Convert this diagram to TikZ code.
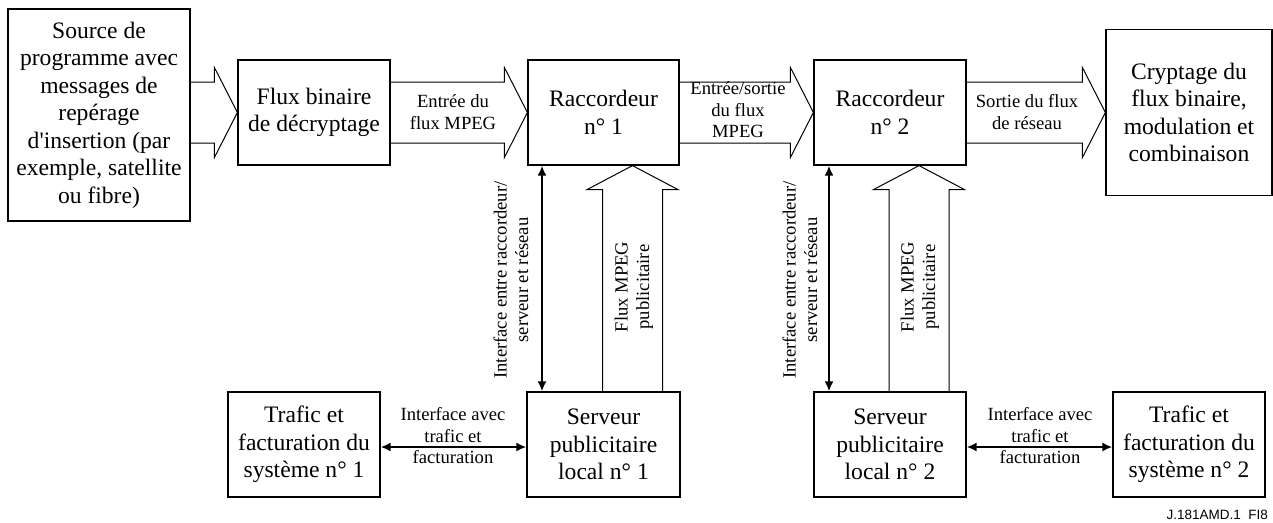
\documentclass[tikz,border=0pt]{standalone}
\usepackage{fontspec}
\setmainfont{Liberation Serif}
\newfontfamily\figsans{Liberation Sans}
\usetikzlibrary{arrows.meta,calc}
\newcommand\fatH[2]{%
  \draw[fat] ($(#1)+(0,-30.5)$) -- ($(#2)+(-23,-30.5)$) -- ($(#2)+(-23,-45)$) -- (#2)
    -- ($(#2)+(-23,45)$) -- ($(#2)+(-23,30.5)$) -- ($(#1)+(0,30.5)$);}
\newcommand\fatV[2]{%
  \draw[fat] ($(#1)+(-30,0)$) -- ($(#2)+(-30,24)$) -- ($(#2)+(-45.5,24)$) -- (#2)
    -- ($(#2)+(45.5,24)$) -- ($(#2)+(30,24)$) -- ($(#1)+(30,0)$);}
\begin{document}
\begin{tikzpicture}[x=1pt,y=-1pt,
  box/.style={draw, line width=1.2pt, rectangle, align=center, inner sep=0pt,
    font=\fontsize{23.6}{27.5}\selectfont},
  small/.style={align=center, inner sep=0pt, font=\fontsize{18.6}{21.5}\selectfont},
  fat/.style={draw, line width=1pt, line join=miter},
  iface/.style={line width=2pt, {Latex[length=10pt,width=9pt]}-{Latex[length=10pt,width=9pt]}}]
\useasboundingbox (0,0) rectangle (1273,522);

% main boxes
\node[box, minimum width=182pt, minimum height=212pt] (src) at (99,115)
  {Source de\\programme avec\\messages de\\repérage\\d\textquotesingle insertion (par\\exemple, satellite\\ou fibre)};
\node[box, minimum width=152pt, minimum height=105pt] (flux) at (314,112.5)
  {Flux binaire\\de décryptage};
\node[box, minimum width=151pt, minimum height=105pt] (r1) at (603.5,112.5)
  {Raccordeur\\n° 1};
\node[box, minimum width=152pt, minimum height=105pt] (r2) at (890,112.5)
  {Raccordeur\\n° 2};
\node[box, minimum width=166pt, minimum height=166pt] (cry) at (1189,112.5)
  {Cryptage du\\flux binaire,\\modulation et\\combinaison};
\node[box, minimum width=152pt, minimum height=105pt] (t1) at (304,444.5)
  {Trafic et\\facturation du\\système n° 1};
\node[box, minimum width=153pt, minimum height=105pt] (s1) at (603.5,444.5)
  {Serveur\\publicitaire\\local n° 1};
\node[box, minimum width=152pt, minimum height=105pt] (s2) at (890,444.5)
  {Serveur\\publicitaire\\local n° 2};
\node[box, minimum width=152pt, minimum height=105pt] (t2) at (1189,444.5)
  {Trafic et\\facturation du\\système n° 2};

% horizontal fat arrows
\coordinate (a1tail) at (src.east |- flux.west);
\fatH{a1tail}{flux.west}
\fatH{flux.east}{r1.west}
\fatH{r1.east}{r2.west}
\coordinate (a4tip) at (cry.west |- r2.east);
\fatH{r2.east}{a4tip}

% vertical fat arrows
\coordinate (v1b) at ($(s1.north)+(29,0)$);
\coordinate (v1t) at ($(r1.south)+(29,0)$);
\fatV{v1b}{v1t}
\coordinate (v2b) at ($(s2.north)+(29,0)$);
\coordinate (v2t) at ($(r2.south)+(29,0)$);
\fatV{v2b}{v2t}

% interface arrows
\coordinate (i1t) at ($(r1.south)+(-61.5,0)$);
\coordinate (i1b) at ($(s1.north)+(-61.5,0)$);
\draw[iface] (i1t) -- (i1b);
\coordinate (i2t) at ($(r2.south)+(-61,0)$);
\coordinate (i2b) at ($(s2.north)+(-61,0)$);
\draw[iface] (i2t) -- (i2b);
\coordinate (h1l) at ($(t1.east)+(0,2.5)$);
\coordinate (h1r) at ($(s1.west)+(0,2.5)$);
\draw[iface] (h1l) -- (h1r);
\coordinate (h2l) at ($(s2.east)+(0,2.5)$);
\coordinate (h2r) at ($(t2.west)+(0,2.5)$);
\draw[iface] (h2l) -- (h2r);

% labels
\node[small] (l2) at (453,112) {Entrée du\\flux MPEG};
\node[small] (l3) at (738,110) {Entrée/sortie\\du flux\\MPEG};
\node[small] (l4) at (1027,112) {Sortie du flux\\de réseau};
\node[small, rotate=90] (lv1) at (511,280) {Interface entre raccordeur/\\serveur et réseau};
\node[small, rotate=90] (lf1) at (634,287) {Flux MPEG\\publicitaire};
\node[small, rotate=90] (lv2) at (800,280) {Interface entre raccordeur/\\serveur et réseau};
\node[small, rotate=90] (lf2) at (920,287) {Flux MPEG\\publicitaire};
\node[small] (lh1) at (453,436) {Interface avec\\trafic et\\facturation};
\node[small] (lh2) at (1040,436) {Interface avec\\trafic et\\facturation};
\node[anchor=base east, inner sep=0pt, font=\figsans\fontsize{13.5}{15}\selectfont] (fig) at (1268,519.5) {J.181AMD.1~~FI8};
\end{tikzpicture}
\end{document}
